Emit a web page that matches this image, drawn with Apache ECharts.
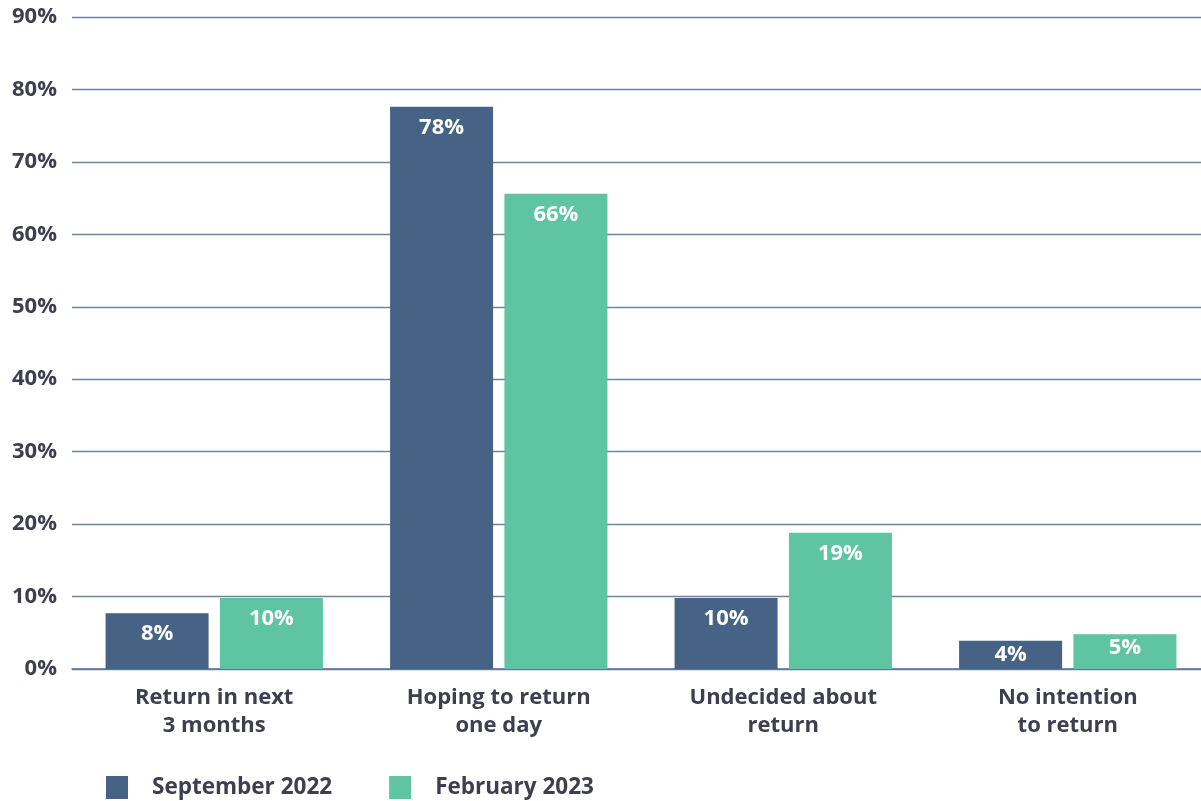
<!DOCTYPE html>
<html><head><meta charset="utf-8">
<script src="https://cdn.jsdelivr.net/npm/echarts@6/dist/echarts.min.js"></script>
<style>html,body{margin:0;padding:0;background:#fff;overflow:hidden}#c{width:1215px;height:801px}</style>
</head><body><div id="c"></div>
<script>
const categories = ["Return in next\n3 months", "Hoping to return\none day", "Undecided about\nreturn", "No intention\nto return"];
const seriesNames = ["September 2022", "February 2023"];
const sep2022 = [7.7, 77.6, 9.8, 3.9];
const feb2023 = [9.8, 65.6, 18.8, 4.8];
const yTicks = [0, 10, 20, 30, 40, 50, 60, 70, 80, 90];

const FONT = '"Open Sans", "Noto Sans", sans-serif';
const TXT = '#3d3f4e';
const chart = echarts.init(document.getElementById('c'), null, {renderer: 'canvas'});
const lbl = {
  show: true, position: 'insideTop', distance: 10, color: '#fff',
  fontFamily: FONT, fontWeight: 'bold', fontSize: 22,
  formatter: p => Math.round(p.value) + '%'
};
// short bars: pull the label a bit closer to the bar top
const withLabels = arr => arr.map(v => v < 6 ? {value: v, label: {distance: 3}} : v);
chart.setOption({
  animation: false,
  textStyle: {fontFamily: FONT},
  grid: {left: 72, width: 1138, top: 17, height: 652},
  legend: {
    left: 106, top: 776, itemWidth: 22, itemHeight: 23, itemGap: 57, padding: 0,
    icon: 'rect',
    textStyle: {color: TXT, fontFamily: FONT, fontWeight: 'bold', fontSize: 22.5, padding: [0, 0, 0, 19]},
    data: seriesNames
  },
  xAxis: {
    type: 'category', data: categories,
    axisTick: {show: false},
    axisLine: {show: true, lineStyle: {color: '#5b7191', width: 1.5}},
    axisLabel: {color: TXT, fontFamily: FONT, fontWeight: 'bold', fontSize: 22, lineHeight: 28, margin: 15}
  },
  yAxis: {
    type: 'value', min: yTicks[0], max: yTicks[yTicks.length - 1], interval: 10,
    axisLine: {show: false}, axisTick: {show: false},
    splitLine: {lineStyle: {color: '#6f84a0', width: 1.3}},
    axisLabel: {color: TXT, fontFamily: FONT, fontWeight: 'bold', fontSize: 22, margin: 15,
      formatter: v => v + '%'}
  },
  series: [
    {name: seriesNames[0], type: 'bar', data: withLabels(sep2022), barWidth: 103, barGap: '11%',
     itemStyle: {color: '#466386'}, label: lbl},
    {name: seriesNames[1], type: 'bar', data: withLabels(feb2023), barWidth: 103,
     itemStyle: {color: '#5fc4a1'}, label: lbl}
  ]
});
</script></body></html>
